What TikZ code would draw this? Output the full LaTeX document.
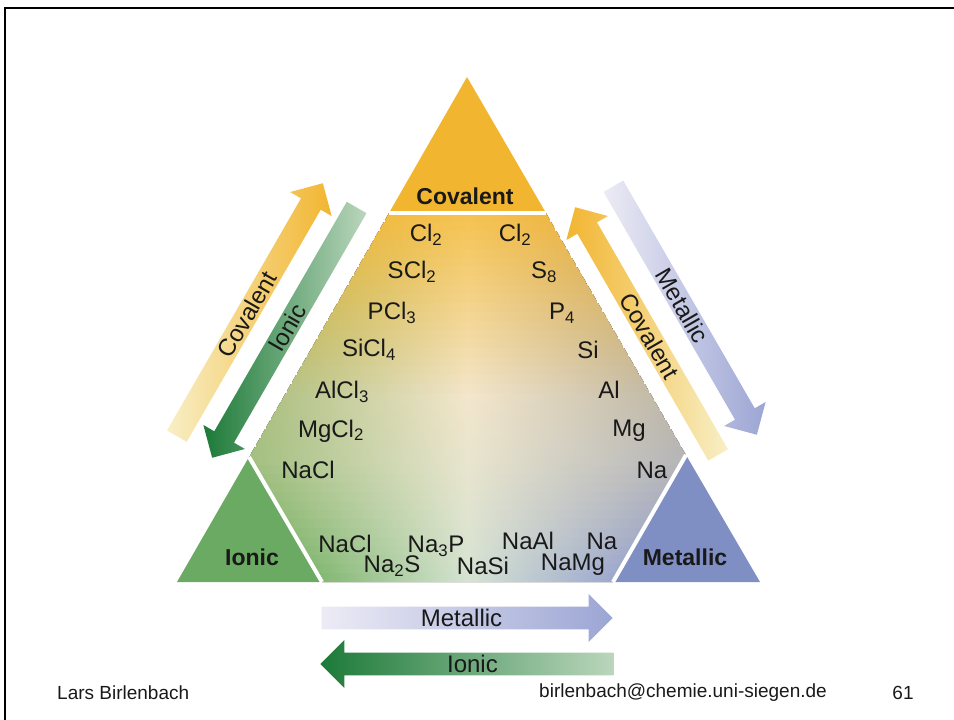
\documentclass[tikz,border=0pt]{standalone}
\usepackage{fontspec}
\setmainfont{Liberation Sans}
\usetikzlibrary{shapes.arrows}
\definecolor{covcol}{HTML}{F2B530}
\definecolor{covpale}{HTML}{F8EFC6}
\definecolor{ioncol}{HTML}{6BAA62}
\definecolor{iondark}{HTML}{1C7A38}
\definecolor{ionpale}{HTML}{BAD6BC}
\definecolor{metcol}{HTML}{7F8FC4}
\definecolor{metarrow}{HTML}{9CA6D4}
\definecolor{metpale}{HTML}{ECEBF5}
% colours of the middle field: left / middle / right, at top, half way and bottom
\definecolor{ltop}{HTML}{F2BC42}
\definecolor{lmid}{HTML}{B3C388}
\definecolor{lbot}{HTML}{7FB66E}
\definecolor{mtop}{HTML}{F5C352}
\definecolor{mmid}{HTML}{F3E6CC}
\definecolor{mbot}{HTML}{D6E3D2}
\definecolor{rtop}{HTML}{F0B845}
\definecolor{rmid}{HTML}{C2BBA9}
\definecolor{rbot}{HTML}{9AA5CF}
\tikzset{every node/.style={text=black!90},
         chem/.style={font=\fontsize{24}{26}\selectfont, inner sep=0pt},
         corner/.style={font=\bfseries\fontsize{23}{26}\selectfont, inner sep=0pt},
         cut/.style={draw=white, line width=4pt},
         fatarrow/.style={single arrow, single arrow head extend=10pt,
                          single arrow head indent=0pt, minimum width=48pt,
                          inner sep=0pt, anchor=tip,
                          font=\fontsize{24}{26}\selectfont},
         footer/.style={font=\fontsize{19}{22}\selectfont, inner sep=0pt} }

\begin{document}
\begin{tikzpicture}[x=1pt, y=-1pt]
    \useasboundingbox (0,0) rectangle (954,720);
    \draw[line width=2.5pt] (5,720) -- (5,8) -- (954,8);

    % corners of the big triangle and of its three corner pieces
    \coordinate (apex) at (467,77);
    \coordinate (botL) at (177,582);
    \coordinate (botR) at (760,582);
    \coordinate (covL) at (389,213);
    \coordinate (covR) at (546,213);
    \coordinate (ionT) at (249,457);
    \coordinate (ionR) at (322,582);
    \coordinate (metT) at (686,455);
    \coordinate (metL) at (613,582);

    % middle field, shaded in thin rows
    \begin{scope}
      \clip (covL) -- (covR) -- (metT) -- (metL) -- (ionR) -- (ionT) -- cycle;
      \foreach \i in {0,...,40}{
        \pgfmathtruncatemacro\pctA{min(\i,20)*5}
        \pgfmathtruncatemacro\pctB{max(\i-20,0)*5}
        \pgfmathsetmacro\ytop{213+9*\i}
        \pgfmathsetmacro\xl{\ytop<457 ? 389-(\ytop-213)*0.574 : 249+(\ytop-457)*0.584}
        \pgfmathsetmacro\xr{\ytop<455 ? 546+(\ytop-213)*0.580 : 686-(\ytop-455)*0.575}
        \colorlet{tmpL}{lmid!\pctA!ltop}\colorlet{rowL}{lbot!\pctB!tmpL}
        \colorlet{tmpM}{mmid!\pctA!mtop}\colorlet{rowM}{mbot!\pctB!tmpM}
        \colorlet{tmpR}{rmid!\pctA!rtop}\colorlet{rowR}{rbot!\pctB!tmpR}
        \fill[left color=rowL, right color=rowR, middle color=rowM]
          (\xl-4,\ytop) rectangle (\xr+4,\ytop+10);
      }
    \end{scope}
    \fill[covcol] (apex) -- (covR) -- (covL) -- cycle;
    \fill[ioncol] (ionT) -- (ionR) -- (botL) -- cycle;
    \fill[metcol] (metT) -- (botR) -- (metL) -- cycle;
    \draw[cut] (covL) -- (covR);
    \draw[cut] (ionT) -- (ionR);
    \draw[cut] (metT) -- (metL);

    \node[corner] (cov) at (465,196) {Covalent};
    \node[corner] (ion) at (252,557) {Ionic};
    \node[corner] (met) at (685,557) {Metallic};

    % left edge
    \node[chem] (clA) at (426,235) {Cl\textsubscript{2}};
    \node[chem] (scl) at (412,272) {SCl\textsubscript{2}};
    \node[chem] (pcl) at (392,313) {PCl\textsubscript{3}};
    \node[chem] (sicl) at (369,350) {SiCl\textsubscript{4}};
    \node[chem] (alcl) at (342,392) {AlCl\textsubscript{3}};
    \node[chem] (mgcl) at (331,431) {MgCl\textsubscript{2}};
    \node[chem] (naclA) at (308,470) {NaCl};
    % right edge
    \node[chem] (clB) at (515,235) {Cl\textsubscript{2}};
    \node[chem] (s) at (544,272) {S\textsubscript{8}};
    \node[chem] (p) at (562,313) {P\textsubscript{4}};
    \node[chem] (si) at (588,350) {Si};
    \node[chem] (al) at (609,390) {Al};
    \node[chem] (mg) at (629,431) {Mg};
    \node[chem] (naA) at (652,470) {Na};
    % bottom edge
    \node[chem] (naclB) at (345,544) {NaCl};
    \node[chem] (nap) at (436,546) {Na\textsubscript{3}P};
    \node[chem] (naal) at (528,541) {NaAl};
    \node[chem] (naB) at (602,541) {Na};
    \node[chem] (nas) at (392,566) {Na\textsubscript{2}S};
    \node[chem] (nasi) at (483,566) {NaSi};
    \node[chem] (namg) at (573,565) {NaMg};

    % trend arrows
    \node[fatarrow, rotate=60, minimum height=292pt, left color=covpale, right color=covcol]
        (covUpL) at (323,183) {Covalent};
    \node[fatarrow, rotate=60, shape border rotate=180, minimum height=289pt,
          left color=iondark, right color=ionpale] (ionDown) at (212,458) {Ionic};
    \node[fatarrow, rotate=-60, shape border rotate=180, minimum height=286pt,
          left color=covcol, right color=covpale] (covUpR) at (575,207) {Covalent};
    \node[fatarrow, rotate=-60, minimum height=287pt, left color=metpale, right color=metarrow]
        (metDown) at (757,435) {Metallic};
    \node[fatarrow, minimum height=291pt, left color=metpale, right color=metarrow]
        (metRight) at (613,618) {Metallic};
    \node[fatarrow, shape border rotate=180, minimum height=293pt,
          left color=iondark, right color=ionpale] (ionLeft) at (320,664) {Ionic};

    \node[footer, anchor=west] (author) at (57,693) {Lars Birlenbach};
    \node[footer, anchor=east] (mail) at (827,693) {birlenbach@chemie.uni-siegen.de};
    \node[footer] (page) at (903,693) {61};
  \end{tikzpicture}
\end{document}
